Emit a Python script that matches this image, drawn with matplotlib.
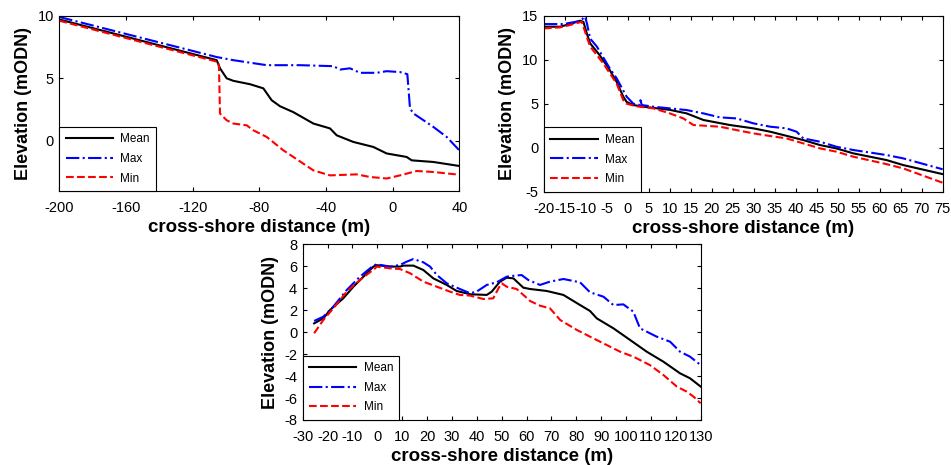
import matplotlib
matplotlib.use("Agg")
import matplotlib.pyplot as plt

plt.rcParams['font.family'] = ['Liberation Sans', 'DejaVu Sans']
plt.rcParams['axes.unicode_minus'] = False

# ---------------- Panel A (top-left) ----------------
a_mean_x = [-200, -105.6, -103.6, -99.6, -95.6, -85.6, -77.6, -72.6, -67.6, -59.6, -47.6, -37.6, -33.6, -23.6, -11.6, -3.6, 8.4, 11.4, 24.4, 40]
a_mean_y = [9.7, 6.45, 5.8, 5.0, 4.8, 4.53, 4.2, 3.25, 2.77, 2.3, 1.39, 1.0, 0.45, -0.08, -0.48, -1.0, -1.28, -1.55, -1.68, -2.0]
a_max_x = [-200, -105.6, -95.6, -75.6, -55.6, -35.6, -31.6, -25.6, -19.6, -9.6, -3.6, 4.4, 8.8, 10.4, 12.4, 24.4, 32.4, 40]
a_max_y = [9.9, 6.7, 6.45, 6.05, 6.05, 5.97, 5.7, 5.8, 5.44, 5.44, 5.57, 5.5, 5.33, 2.6, 2.2, 1.12, 0.32, -0.75]
a_min_x = [-200, -104.6, -104.2, -103.6, -99.6, -95.6, -87.6, -83.6, -75.6, -65.6, -59.6, -47.6, -37.6, -21.6, -13.6, -3.6, 4.4, 14.4, 24.4, 40]
a_min_y = [9.6, 6.3, 5.8, 2.19, 1.65, 1.39, 1.25, 0.85, 0.32, -0.75, -1.28, -2.35, -2.75, -2.67, -2.88, -3.0, -2.75, -2.4, -2.48, -2.7]
a_xticks = [-200, -160, -120, -80, -40, 0, 40]
a_yticks = [0, 5, 10]

# ---------------- Panel B (top-right) ----------------
b_mean_x = [-20, -16.2, -13.8, -11.4, -10.6, -9.8, -9.0, -6.7, -4.3, -2.7, -1.1, -0.3, 1.3, 3.7, 10.0, 14.0, 18.0, 24.3, 29.9, 33.9, 41.8, 45.8, 49.7, 53.7, 61.6, 65.6, 75]
b_mean_y = [13.75, 13.75, 14.05, 14.43, 14.3, 13.0, 11.86, 10.5, 8.8, 7.5, 5.8, 5.2, 4.85, 4.66, 4.3, 3.9, 3.15, 2.58, 2.2, 1.82, 0.87, 0.3, -0.08, -0.64, -1.4, -1.97, -3.0]
b_max_x = [-20, -15.4, -11.4, -10.2, -9.7, -9.0, -7.4, -4.3, -2.7, -0.3, 1.3, 2.9, 3.0, 3.3, 6.1, 10.0, 14.0, 18.0, 21.9, 25.9, 29.9, 33.9, 37.8, 40.2, 41.8, 45.8, 49.7, 53.7, 61.6, 65.6, 75]
b_max_y = [14.05, 14.05, 14.4, 14.9, 14.0, 12.4, 11.5, 9.0, 7.9, 5.8, 5.0, 4.85, 5.4, 4.85, 4.66, 4.47, 4.28, 3.9, 3.45, 3.33, 2.77, 2.39, 2.2, 1.82, 1.06, 0.68, 0.11, -0.26, -0.83, -1.21, -2.45]
b_min_x = [-20, -16.2, -13.8, -11.0, -9.8, -9.0, -5.9, -2.7, -1.1, -0.3, 2.1, 6.1, 10.0, 13.2, 15.6, 21.9, 25.9, 29.9, 33.9, 37.8, 41.8, 45.8, 49.7, 53.7, 61.6, 65.6, 75]
b_min_y = [13.56, 13.67, 13.94, 14.32, 12.6, 11.5, 9.6, 7.3, 5.4, 5.0, 4.7, 4.47, 3.9, 3.33, 2.58, 2.39, 2.0, 1.63, 1.33, 1.06, 0.49, -0.08, -0.45, -1.02, -1.86, -2.35, -3.98]
b_xticks = list(range(-20, 80, 5))
b_yticks = [-5, 0, 5, 10, 15]

# ---------------- Panel C (bottom) ----------------
c_mean_x = [-25.4, -21.7, -19.0, -13.7, -9.6, -5.6, -1.6, -0.25, 5.1, 9.1, 10.5, 14.5, 18.5, 22.5, 27.9, 31.9, 37.3, 44.0, 46.0, 49.3, 52.0, 54.7, 58.7, 61.4, 68.1, 74.8, 81.5, 85.5, 88.2, 94.9, 101.6, 108.3, 115.0, 121.7, 125.7, 130]
c_mean_y = [0.8, 1.26, 2.02, 3.08, 4.14, 5.05, 5.97, 6.1, 5.97, 5.97, 6.06, 6.06, 5.66, 4.9, 4.3, 3.75, 3.45, 3.39, 3.69, 4.6, 4.96, 4.9, 4.05, 3.93, 3.75, 3.39, 2.47, 1.93, 1.26, 0.35, -0.71, -1.78, -2.69, -3.75, -4.2, -4.96]
c_max_x = [-25.4, -21.7, -17.7, -12.3, -7.0, -1.6, -0.25, 5.1, 9.1, 11.8, 14.5, 18.5, 21.2, 23.9, 27.9, 33.2, 37.3, 39.9, 44.0, 48.0, 52.0, 55.4, 58.0, 60.7, 65.4, 69.4, 74.8, 81.5, 85.5, 90.9, 94.9, 98.9, 102.9, 105.6, 112.3, 117.7, 121.7, 125.7, 130]
c_max_y = [1.02, 1.41, 2.32, 3.84, 5.05, 6.06, 6.18, 5.97, 6.12, 6.42, 6.66, 6.36, 5.97, 5.21, 4.45, 3.93, 3.54, 3.69, 4.3, 4.54, 5.05, 5.15, 5.2, 4.75, 4.3, 4.6, 4.84, 4.54, 3.63, 3.23, 2.47, 2.53, 1.87, 0.35, -0.41, -0.87, -1.78, -2.23, -3.0]
c_min_x = [-25.4, -21.7, -17.7, -12.3, -7.0, -0.9, -0.25, 5.1, 9.1, 13.2, 18.5, 23.9, 29.2, 33.2, 37.3, 42.6, 46.6, 48.7, 50.0, 52.0, 56.0, 58.7, 61.4, 65.4, 69.4, 73.5, 80.2, 85.5, 92.2, 97.6, 102.9, 109.6, 115.0, 120.4, 124.4, 127.1, 130]
c_min_y = [-0.1, 1.11, 2.17, 3.69, 4.75, 5.81, 5.97, 5.81, 5.75, 5.36, 4.6, 4.14, 3.69, 3.39, 3.33, 3.02, 3.08, 3.99, 4.45, 4.14, 3.93, 3.39, 2.84, 2.41, 2.17, 1.11, 0.2, -0.41, -1.17, -1.78, -2.23, -3.0, -3.9, -4.96, -5.42, -5.87, -6.48]
c_xticks = list(range(-30, 140, 10))
c_yticks = list(range(-8, 10, 2))

series_labels = ['Mean', 'Max', 'Min']

fig = plt.figure(figsize=(9.51, 4.65), dpi=100)

panels = [
    ([0.0624, 0.5892, 0.4206, 0.3770], (a_mean_x, a_mean_y, a_max_x, a_max_y, a_min_x, a_min_y), (-200, 40), (-4, 10), a_xticks, a_yticks),
    ([0.5720, 0.5877, 0.4192, 0.3785], (b_mean_x, b_mean_y, b_max_x, b_max_y, b_min_x, b_min_y), (-20, 75), (-5, 15), b_xticks, b_yticks),
    ([0.3183, 0.0968, 0.4185, 0.3778], (c_mean_x, c_mean_y, c_max_x, c_max_y, c_min_x, c_min_y), (-30, 130), (-8, 8), c_xticks, c_yticks),
]

for rect, d, xl, yl, xt, yt in panels:
    ax = fig.add_axes(rect)
    mx, my, Mx, My, nx, ny = d
    ax.plot(mx, my, color='black', lw=1.5, ls='-', label=series_labels[0])
    ax.plot(Mx, My, color='blue', lw=1.5, ls='-.', label=series_labels[1])
    ax.plot(nx, ny, color='red', lw=1.5, ls='--', label=series_labels[2])
    ax.set_xlim(*xl)
    ax.set_ylim(*yl)
    ax.set_xticks(xt)
    ax.set_yticks(yt)
    ax.tick_params(direction='in', top=True, right=True, length=3, width=0.8,
                   labelsize=10.5)
    ax.tick_params(axis='x', pad=7.5)
    ax.tick_params(axis='y', pad=4)
    for s in ax.spines.values():
        s.set_linewidth(0.8)
    ax.set_xlabel('cross-shore distance (m)', fontsize=13.5, fontweight='bold', labelpad=2.5)
    ax.set_ylabel('Elevation (mODN)', fontsize=13, fontweight='bold', labelpad=4)
    leg = ax.legend(loc='lower left', borderaxespad=0, fontsize=8.5, fancybox=False,
                    edgecolor='black', framealpha=1, handlelength=4.0,
                    labelspacing=0.65, borderpad=0.55, handletextpad=0.6)
    leg.get_frame().set_linewidth(0.8)

fig.savefig('out.png', dpi=100)
